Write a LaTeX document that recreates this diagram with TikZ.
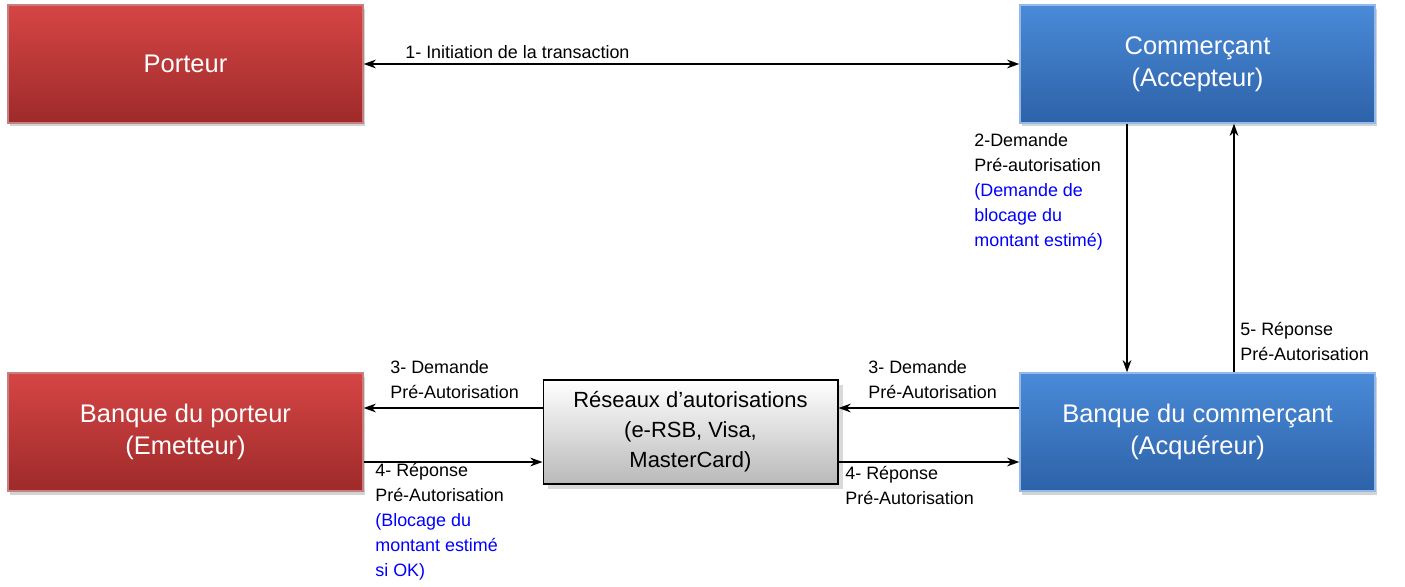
\documentclass[tikz,border=0pt]{standalone}
\usepackage{fontspec}
\setmainfont{Liberation Sans}
\usetikzlibrary{shadows,arrows.meta}
\definecolor{rtop}{HTML}{D64545}\definecolor{rbot}{HTML}{9E2A2A}
\definecolor{btop}{HTML}{4A8AD8}\definecolor{bbot}{HTML}{2D62A8}
\definecolor{lblue}{HTML}{0000FF}
\begin{document}
\begin{tikzpicture}[x=0.02cm,y=-0.02cm,
 box/.style={draw=#1!60!white,line width=0.8pt,minimum width=7.1cm,minimum height=2.36cm,
   text=white,font=\fontsize{14.5}{18}\selectfont,align=center,drop shadow={opacity=0.35,shadow xshift=1pt,shadow yshift=-2pt}},
 red/.style={box=rbot,top color=rtop,bottom color=rbot},
 blue/.style={box=btop,top color=btop,bottom color=bbot},
 lab/.style={font=\fontsize{10.2}{14.2}\selectfont,align=left,inner sep=0pt},
 arr/.style={-{Stealth[length=7pt,width=5pt]},line width=0.8pt}]
\useasboundingbox (0,0) rectangle (1405,587);
\node[red] (p) at (185.5,64) {Porteur};
\node[blue] (c) at (1197.5,64) {Commerçant\\(Accepteur)};
\node[red] (bp) at (185.5,432) {Banque du porteur\\(Emetteur)};
\node[blue] (bc) at (1197.5,432) {Banque du commerçant\\(Acquéreur)};
\node[draw=black,line width=0.6pt,top color=white,bottom color=gray!55,minimum width=5.9cm,minimum height=2.08cm,
 align=center,font=\fontsize{12.5}{17}\selectfont,drop shadow={opacity=0.3}] (r) at (690.5,432)
 {Réseaux d’autorisations\\(e-RSB, Visa,\\MasterCard)};
\draw[arr,{Stealth[length=7pt,width=5pt]}-{Stealth[length=7pt,width=5pt]}] (p.east|-0,64) -- (c.west|-0,64);
\node[lab,anchor=west] (l1) at (405,52) {1- Initiation de la transaction};
\draw[arr] (c.south-|1127,0) -- (bc.north-|1127,0);
\node[lab,anchor=north west] (l2) at (974,133) {2-Demande\\Pré-autorisation\\\textcolor{lblue}{(Demande de}\\\textcolor{lblue}{blocage du}\\\textcolor{lblue}{montant estimé)}};
\draw[arr] (bc.north-|1234,0) -- (c.south-|1234,0);
\node[lab,anchor=north west] (l5) at (1240,322) {5- Réponse\\Pré-Autorisation};
\draw[arr] (bc.west|-0,408) -- (r.east|-0,408);
\node[lab,anchor=north west] (l3b) at (868,360) {3- Demande\\Pré-Autorisation};
\draw[arr] (r.west|-0,408) -- (bp.east|-0,408);
\node[lab,anchor=north west] (l3a) at (390,360) {3- Demande\\Pré-Autorisation};
\draw[arr] (bp.east|-0,462) -- (r.west|-0,462);
\node[lab,anchor=north west] (l4a) at (375,463) {4- Réponse\\Pré-Autorisation\\\textcolor{lblue}{(Blocage du}\\\textcolor{lblue}{montant estimé}\\\textcolor{lblue}{si OK)}};
\draw[arr] (r.east|-0,462) -- (bc.west|-0,462);
\node[lab,anchor=north west] (l4b) at (845,466) {4- Réponse\\Pré-Autorisation};
\end{tikzpicture}
\end{document}
